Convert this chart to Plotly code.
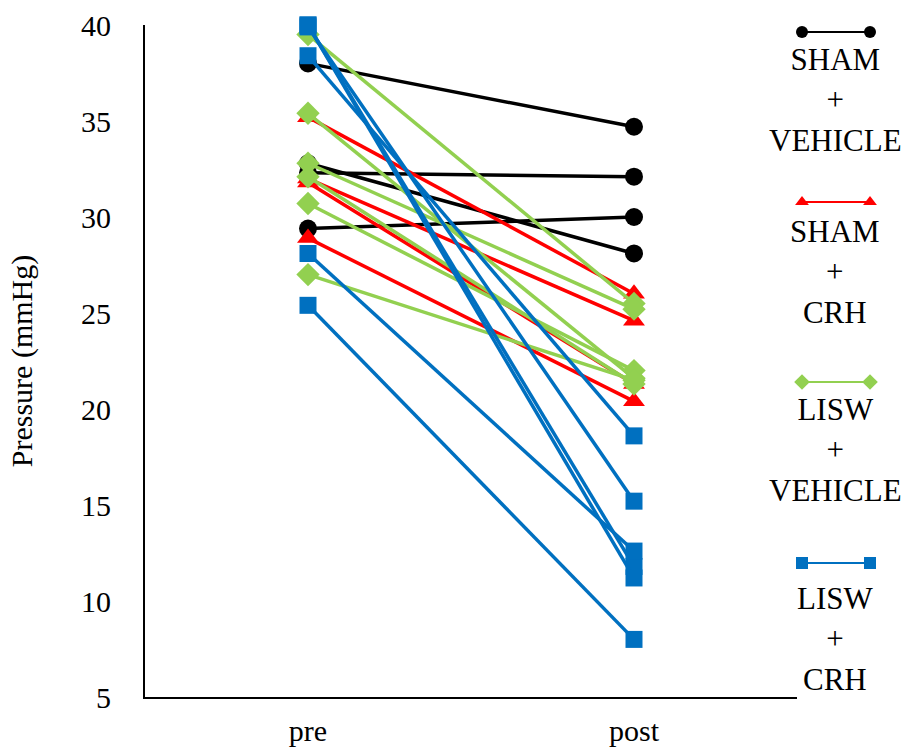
import plotly.graph_objects as go

# ---- data ----
categories = ["pre", "post"]

sham_vehicle_pre = [38.0, 32.8, 32.3, 29.4]
sham_vehicle_post = [34.7, 28.1, 32.1, 30.0]

sham_crh_pre = [35.2, 32.0, 31.8, 28.9]
sham_crh_post = [26.0, 24.6, 21.3, 20.4]

lisw_vehicle_pre = [39.5, 35.4, 32.8, 32.1, 30.7, 27.0]
lisw_vehicle_post = [25.5, 21.6, 25.2, 21.3, 22.0, 21.5]

lisw_crh_pre = [40.0, 40.0, 39.9, 38.4, 28.1, 25.4]
lisw_crh_post = [11.8, 11.2, 15.2, 18.6, 12.6, 8.0]

group_names = ["SHAM<br>+<br>VEHICLE", "SHAM<br>+<br>CRH", "LISW<br>+<br>VEHICLE", "LISW<br>+<br>CRH"]
y_ticks = [5, 10, 15, 20, 25, 30, 35, 40]

# ---- styles ----
W, H = 905, 753
L, R, T, B = 145, 797, 25, 697   # main plot area in pixels
FONT = "Liberation Serif, Times New Roman, serif"

groups = [
    (sham_vehicle_pre, sham_vehicle_post, "#000000", "circle", 18),
    (sham_crh_pre, sham_crh_post, "#FF0000", "triangle-up", 19),
    (lisw_vehicle_pre, lisw_vehicle_post, "#92D050", "diamond", 18),
    (lisw_crh_pre, lisw_crh_post, "#0070C0", "square", 17),
]

fig = go.Figure()
for pre, post, color, symbol, size in groups:
    for a, b in zip(pre, post):
        fig.add_trace(go.Scatter(
            x=categories, y=[a, b], mode="lines+markers",
            line=dict(color=color, width=3.5),
            marker=dict(color=color, symbol=symbol, size=size, line=dict(width=0)),
            showlegend=False, hoverinfo="skip", cliponaxis=False,
        ))

# ---- custom legend (glyph above multi-line label), on its own axes right of the plot ----
glyph_y = [32, 202, 382, 563]
text_y = [100, 272, 450, 639]
glyph_x = [802, 870]
text_x = 835
for (pre, post, color, symbol, size), gy, ty, name in zip(groups, glyph_y, text_y, group_names):
    fig.add_trace(go.Scatter(
        x=glyph_x, y=[gy, gy], xaxis="x2", yaxis="y2", mode="lines+markers",
        line=dict(color=color, width=2),
        marker=dict(color=color, symbol=symbol, size=12, line=dict(width=0)),
        showlegend=False, hoverinfo="skip", cliponaxis=False,
    ))
    fig.add_annotation(
        x=text_x, y=ty, xref="x2", yref="y2", text=name, showarrow=False,
        xanchor="center", yanchor="middle", align="center",
        font=dict(family=FONT, size=31, color="#000000"),
    )

split = (R - L) / (W - L)
fig.update_layout(
    width=W, height=H,
    margin=dict(l=L, r=0, t=T, b=H - B, pad=0),
    paper_bgcolor="white", plot_bgcolor="white",
    showlegend=False,
    xaxis=dict(
        domain=[0, split], anchor="y",
        type="category", range=[-0.5, 1.5],
        showline=True, linecolor="#000000", linewidth=2,
        showgrid=False, zeroline=False, ticks="",
        tickfont=dict(family=FONT, size=30, color="#000000"),
        ticklabelstandoff=6, automargin=False,
    ),
    yaxis=dict(
        domain=[0, 1], anchor="x",
        range=[5, 40], tickvals=y_ticks,
        showline=True, linecolor="#000000", linewidth=2,
        showgrid=False, zeroline=False, ticks="",
        tickfont=dict(family=FONT, size=30, color="#000000"),
        ticklabelstandoff=26, automargin=False,
        title=dict(text="Pressure (mmHg)", font=dict(family=FONT, size=30, color="#000000"), standoff=40),
    ),
    xaxis2=dict(domain=[split, 1], anchor="y2", range=[R, W], visible=False, fixedrange=True),
    yaxis2=dict(domain=[0, 1], anchor="x2", range=[B, T], visible=False, fixedrange=True),
)

fig.write_html("out.html")
